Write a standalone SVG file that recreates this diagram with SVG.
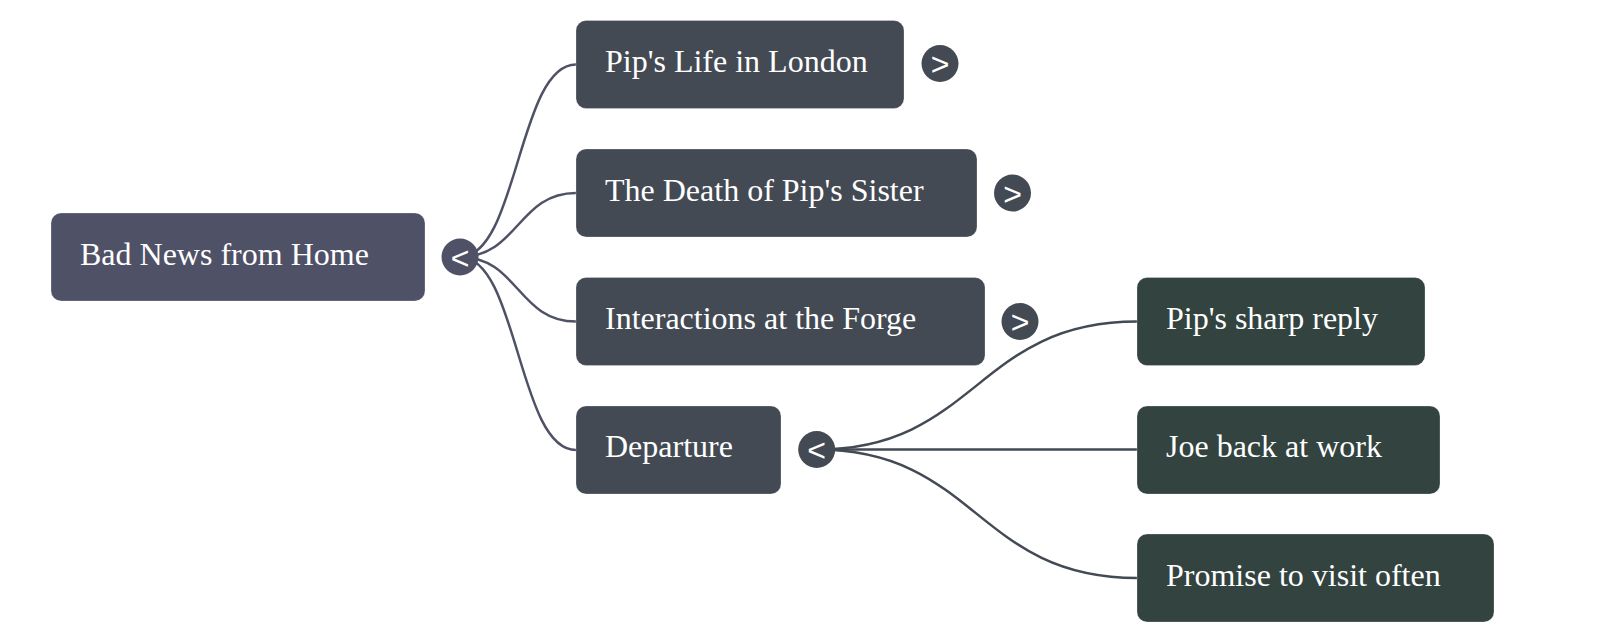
<svg xmlns="http://www.w3.org/2000/svg" width="1600" height="642" viewBox="0 0 1600 642">
<style>
.box{stroke:#ffffff;stroke-opacity:0.25;stroke-width:1}
.root{fill:#4f5167}
.l1{fill:#434a54}
.l2{fill:#33433f}
.lbl{font-family:"Liberation Serif","Times New Roman",serif;font-size:32px;fill:#ffffff}
.tg{font-family:"Liberation Sans",Arial,sans-serif;font-size:32px;fill:#ffffff;text-anchor:middle}
.lk{fill:none;stroke-width:2.5}
</style>
<rect width="1600" height="642" fill="#ffffff"/>
<g id="connectors">
<path class="lk" stroke="#4f5167" d="M460,257 C518,257 518,64.5 576,64.5"/>
<path class="lk" stroke="#4f5167" d="M460,257 C518,257 518,193 576,193"/>
<path class="lk" stroke="#4f5167" d="M460,257 C518,257 518,321.5 576,321.5"/>
<path class="lk" stroke="#4f5167" d="M460,257 C518,257 518,450 576,450"/>
<path class="lk" stroke="#434a54" d="M816.7,449.5 C976.5,449.5 976.5,321.5 1137,321.5"/>
<path class="lk" stroke="#434a54" d="M816.7,449.5 L1137,449.5"/>
<path class="lk" stroke="#434a54" d="M816.7,449.5 C976.5,449.5 976.5,578 1137,578"/>
</g>
<g id="root">
<rect class="box root" x="51" y="213" width="374" height="88" rx="10"/>
<text class="lbl" x="80" y="264.5">Bad News from Home</text>
<circle cx="460" cy="257" r="18.5" fill="#4f5167"/>
<text class="tg" x="460" y="268.5">&lt;</text>
</g>
<g id="n1">
<rect class="box l1" x="576" y="20.5" width="328" height="88" rx="10"/>
<text class="lbl" x="605" y="72">Pip's Life in London</text>
<circle cx="940" cy="63.5" r="18.5" fill="#434a54"/>
<text class="tg" x="940" y="75">&gt;</text>
</g>
<g id="n2">
<rect class="box l1" x="576" y="149" width="401" height="88" rx="10"/>
<text class="lbl" x="605" y="200.5">The Death of Pip's Sister</text>
<circle cx="1012.5" cy="193" r="18.5" fill="#434a54"/>
<text class="tg" x="1012.5" y="204.5">&gt;</text>
</g>
<g id="n3">
<rect class="box l1" x="576" y="277.5" width="409" height="88" rx="10"/>
<text class="lbl" x="605" y="329">Interactions at the Forge</text>
<circle cx="1020" cy="321.5" r="18.5" fill="#434a54"/>
<text class="tg" x="1020" y="333">&gt;</text>
</g>
<g id="n4">
<rect class="box l1" x="576" y="406" width="205" height="88" rx="10"/>
<text class="lbl" x="605" y="457">Departure</text>
<circle cx="816.7" cy="449.5" r="18.5" fill="#434a54"/>
<text class="tg" x="816.7" y="461">&lt;</text>
</g>
<g id="n4a">
<rect class="box l2" x="1137" y="277.5" width="288" height="88" rx="10"/>
<text class="lbl" x="1166" y="329">Pip's sharp reply</text>
</g>
<g id="n4b">
<rect class="box l2" x="1137" y="406" width="303" height="88" rx="10"/>
<text class="lbl" x="1166" y="457">Joe back at work</text>
</g>
<g id="n4c">
<rect class="box l2" x="1137" y="534" width="357" height="88" rx="10"/>
<text class="lbl" x="1166" y="585.5">Promise to visit often</text>
</g>
</svg>
